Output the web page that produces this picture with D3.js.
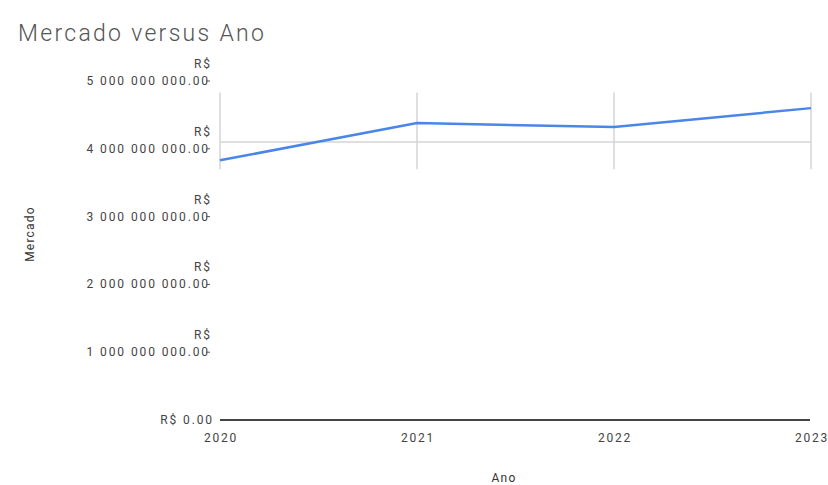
<!DOCTYPE html>
<html>
<head>
<meta charset="utf-8">
<script src="https://cdn.jsdelivr.net/npm/d3@7"></script>
<style>
  body { margin: 0; background: #fff; }
  svg { display: block; font-family: Roboto, "Liberation Sans", sans-serif; }
</style>
</head>
<body>
<svg id="chart" width="828" height="485"></svg>
<script>
// dados
const anos = [2020, 2021, 2022, 2023]
const mercado = [3.83e9, 4.38e9, 4.32e9, 4.60e9]
const yTicks = [0, 1e9, 2e9, 3e9, 4e9, 5e9]
const yTickLabels = ["R$ 0.00", "1 000 000 000.00", "2 000 000 000.00", "3 000 000 000.00", "4 000 000 000.00", "5 000 000 000.00"]
// faixa da grade (em valores) que aparece na imagem
const gridRange = [3.7e9, 4.83e9]
const gridH = [4.1e9]

const svg = d3.select("#chart")

const x = d3.scalePoint()
  .domain(anos)
  .range([220, 811])

const y = d3.scaleLinear()
  .domain([0, 5e9])
  .range([420, 81])

// titulo
svg.append("text")
  .attr("x", 18).attr("y", 41)
  .attr("font-size", 23)
  .attr("font-weight", 300)
  .attr("letter-spacing", 2.3)
  .attr("fill", "#555")
  .text("Mercado versus Ano")

// grade vertical
svg.append("g")
  .selectAll("line")
  .data(anos)
  .join("line")
  .attr("x1", d => x(d)).attr("x2", d => x(d))
  .attr("y1", y(gridRange[1])).attr("y2", y(gridRange[0]))
  .attr("stroke", "#d4d4d4")
  .attr("stroke-width", 1.5)

// grade horizontal
svg.append("g")
  .selectAll("line")
  .data(gridH)
  .join("line")
  .attr("x1", x(anos[0])).attr("x2", x(anos[anos.length - 1]))
  .attr("y1", d => y(d)).attr("y2", d => y(d))
  .attr("stroke", "#d4d4d4")
  .attr("stroke-width", 1.5)

// eixo y (rótulos em duas linhas)
const yAxis = svg.append("g")
  .attr("font-size", 12)
  .attr("letter-spacing", 1.9)
  .attr("fill", "#444")
yTicks.forEach((t, i) => {
  yAxis.append("text")
    .attr("x", t === 0 ? 214 : 210).attr("y", y(t) + 4)
    .attr("text-anchor", "end")
    .text(yTickLabels[i])
  if (t !== 0) {
    yAxis.append("text")
      .attr("x", 212).attr("y", y(t) - 13)
      .attr("text-anchor", "end")
      .text("R$")
    yAxis.append("line")
      .attr("x1", 206).attr("x2", 210)
      .attr("y1", y(t)).attr("y2", y(t))
      .attr("stroke", "#555")
  }
})

// eixo x
svg.append("line")
  .attr("x1", x(anos[0])).attr("x2", x(anos[anos.length - 1]) - 1)
  .attr("y1", y(0)).attr("y2", y(0))
  .attr("stroke", "#444")
  .attr("stroke-width", 2.2)

svg.append("g")
  .selectAll("text")
  .data(anos)
  .join("text")
  .attr("x", d => x(d) + 1)
  .attr("y", y(0) + 22)
  .attr("text-anchor", "middle")
  .attr("font-size", 12).attr("letter-spacing", 1.8).attr("fill", "#444")
  .text(d => d)

// titulos dos eixos
svg.append("text")
  .attr("x", 504).attr("y", 482)
  .attr("text-anchor", "middle")
  .attr("font-size", 12).attr("letter-spacing", 1.2).attr("fill", "#333")
  .text("Ano")

svg.append("text")
  .attr("transform", "translate(34,234) rotate(-90)")
  .attr("text-anchor", "middle")
  .attr("font-size", 12).attr("letter-spacing", 1.2).attr("fill", "#333")
  .text("Mercado")

// linha
const line = d3.line()
  .x((d, i) => x(anos[i]))
  .y(d => y(d))

svg.append("path")
  .datum(mercado)
  .attr("d", line)
  .attr("fill", "none")
  .attr("stroke", "#4a86e8")
  .attr("stroke-width", 2.5)
</script>
</body>
</html>
